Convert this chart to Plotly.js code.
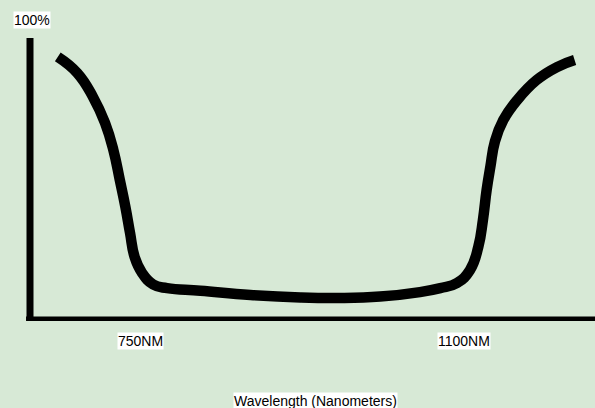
<!DOCTYPE html>
<html>
<head>
<meta charset="utf-8">
<script src="https://cdn.plot.ly/plotly-3.0.1.min.js"></script>
<style>
html,body{margin:0;padding:0;background:#d7e9d6;}
#chart{width:595px;height:408px;}
</style>
</head>
<body>
<div id="chart"></div>
<script>
// Wavelength (nm) and reflectance (%)
const wavelength = [661, 682, 699, 712, 721, 728, 734, 739, 744, 752, 764, 779, 815, 869, 923, 966, 1009, 1052, 1074, 1092, 1106, 1115, 1120, 1124, 1128, 1133, 1142, 1157, 1178, 1200, 1219];
const percent    = [93.3, 87.6, 79.1, 69.9, 60.3, 49.6, 40.1, 30.9, 22.3, 16.7, 12.6, 11.3, 10.4, 8.9, 8.0, 7.8, 8.3, 9.9, 11.3, 13.1, 17.7, 25.9, 35.5, 46.1, 54.3, 63.4, 70.9, 78.0, 85.1, 89.7, 92.2];
const tickVals = [750, 1100];
const tickText = ['750NM', '1100NM'];
const yLabel = '100%';
const xTitle = 'Wavelength (Nanometers)';

const font = {family: 'Liberation Sans Narrow, Arial Narrow, Liberation Sans, Arial, sans-serif', size: 14, color: '#000'};

const annotations = tickVals.map((v, i) => ({
  x: v, xref: 'x', y: 0, yref: 'paper', yshift: -21,
  text: tickText[i], showarrow: false, font: font,
  bgcolor: '#ffffff', borderpad: 0, xanchor: 'center', yanchor: 'middle'
}));
annotations.push({
  x: 0, xref: 'paper', y: 1, yref: 'paper', xshift: 2, yshift: 18,
  text: yLabel, showarrow: false, font: font,
  bgcolor: '#ffffff', borderpad: 0, xanchor: 'center', yanchor: 'middle'
});
annotations.push({
  x: 939, xref: 'x', y: 0, yref: 'paper', yshift: -81,
  text: xTitle, showarrow: false, font: font,
  bgcolor: '#ffffff', borderpad: 0, xanchor: 'center', yanchor: 'middle'
});

const trace = {
  x: wavelength, y: percent, type: 'scatter', mode: 'lines',
  line: {color: '#000', width: 10.5, shape: 'spline', smoothing: 1.3},
  hoverinfo: 'skip'
};

const layout = {
  width: 595, height: 408,
  margin: {l: 30, r: 0, t: 38, b: 88, pad: 0},
  paper_bgcolor: '#d7e9d6', plot_bgcolor: '#d7e9d6',
  showlegend: false,
  xaxis: {range: [631, 1241], showgrid: false, zeroline: false, showline: false, showticklabels: false, ticks: '', fixedrange: true},
  yaxis: {range: [0, 100], showgrid: false, zeroline: false, showline: false, showticklabels: false, ticks: '', fixedrange: true},
  shapes: [
    {type: 'line', xref: 'paper', yref: 'paper', x0: 0, x1: 0, y0: 0, y1: 1, line: {color: '#000', width: 7}, layer: 'above'},
    {type: 'line', xref: 'paper', yref: 'paper', x0: -0.007, x1: 1, y0: 0.004, y1: 0.004, line: {color: '#000', width: 4.5}, layer: 'above'}
  ],
  annotations: annotations
};

Plotly.newPlot('chart', [trace], layout, {staticPlot: true, displayModeBar: false});
</script>
</body>
</html>
